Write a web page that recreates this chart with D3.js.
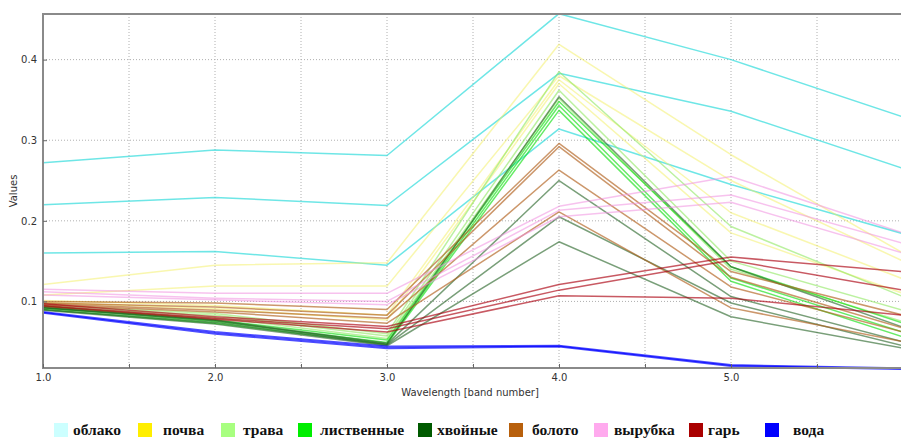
<!DOCTYPE html>
<html>
<head>
<meta charset="utf-8">
<script src="https://cdn.jsdelivr.net/npm/d3@7"></script>
<style>
  body { margin: 0; background: #fff; }
  svg { display: block; }
  .tick text { font-family: "DejaVu Sans", sans-serif; font-size: 10px; fill: #333; }
</style>
</head>
<body>
<div id="chart"></div>
<script>
//
// spectral profiles by class
//

var bands = [1, 2, 3, 4, 5, 6];
var xTicks = [1, 2, 3, 4, 5];
var yTicks = [0.1, 0.2, 0.3, 0.4];

var classNames = ["облако", "почва", "трава", "лиственные", "хвойные", "болото", "вырубка", "гарь", "вода"];
var legendColors = ["#ccffff", "#ffee00", "#a8ff80", "#00ee00", "#005a00", "#b8600c", "#ffaaee", "#aa0000", "#0000ff"];
var lineColors = ["#30dcdc", "#f4f060", "#90e860", "#00dd00", "#1f5f1f", "#b0601c", "#f090e0", "#aa0010", "#0000ff"];
var lineOpacity = [0.7, 0.5, 0.6, 0.6, 0.6, 0.65, 0.55, 0.65, 0.7];

// one row per sample, values for bands 1..6
var oblako = [
    [0.272, 0.288, 0.281, 0.457, 0.400, 0.329],
    [0.220, 0.229, 0.219, 0.383, 0.336, 0.265],
    [0.160, 0.162, 0.145, 0.314, 0.245, 0.184]
];
var pochva = [
    [0.121, 0.145, 0.148, 0.419, 0.282, 0.160],
    [0.108, 0.119, 0.119, 0.380, 0.250, 0.150],
    [0.101, 0.095, 0.083, 0.375, 0.210, 0.128],
    [0.099, 0.091, 0.077, 0.370, 0.185, 0.110]
];
var trava = [
    [0.095, 0.085, 0.060, 0.385, 0.193, 0.106],
    [0.093, 0.083, 0.057, 0.362, 0.150, 0.089],
    [0.091, 0.080, 0.054, 0.352, 0.140, 0.075]
];
var listvennye = [
    [0.094, 0.077, 0.052, 0.348, 0.143, 0.073],
    [0.092, 0.075, 0.049, 0.343, 0.129, 0.062],
    [0.090, 0.073, 0.047, 0.337, 0.125, 0.056]
];
var hvoinye = [
    [0.092, 0.077, 0.048, 0.354, 0.143, 0.068],
    [0.092, 0.076, 0.047, 0.250, 0.106, 0.050],
    [0.090, 0.074, 0.046, 0.205, 0.098, 0.045],
    [0.089, 0.072, 0.045, 0.174, 0.081, 0.042]
];
var boloto = [
    [0.100, 0.098, 0.090, 0.296, 0.137, 0.083],
    [0.098, 0.093, 0.083, 0.292, 0.130, 0.067],
    [0.097, 0.089, 0.079, 0.263, 0.118, 0.062],
    [0.096, 0.087, 0.073, 0.211, 0.092, 0.050]
];
var vyrubka = [
    [0.115, 0.110, 0.110, 0.218, 0.255, 0.185],
    [0.112, 0.104, 0.100, 0.213, 0.232, 0.172],
    [0.108, 0.102, 0.096, 0.205, 0.223, 0.160]
];
var gar = [
    [0.097, 0.081, 0.069, 0.121, 0.155, 0.137],
    [0.095, 0.079, 0.066, 0.114, 0.151, 0.114],
    [0.094, 0.078, 0.062, 0.107, 0.104, 0.083]
];
var voda = [
    [0.087, 0.062, 0.044, 0.045, 0.021, 0.017],
    [0.086, 0.060, 0.042, 0.044, 0.020, 0.016]
];

var classSeries = [oblako, pochva, trava, listvennye, hvoinye, boloto, vyrubka, gar, voda];

const _width = 901;
const _height = 438;
const _left = 43;
const _right = 903;
const _top = 14;
const _bottom = 368;

// legend layout (swatch left edge, text left edge)
const _legendSwatchX = [54, 138, 221, 298, 418, 509, 594, 689, 765];
const _legendTextX = [73, 163, 243, 320, 437, 532, 614, 708, 793];

var svg = d3.select("#chart")
    .append("svg")
    .attr("width", _width)
    .attr("height", _height);

var x = d3.scaleLinear().domain([1, 6]).range([_left, _right]);
var y = d3.scaleLinear().domain([0.0174, 0.4566]).range([_bottom, _top]);

// grid
var gridX = d3.range(1.5, 6, 0.5);
svg.append("g")
    .selectAll("line")
    .data(gridX)
    .join("line")
    .attr("x1", d => x(d)).attr("x2", d => x(d))
    .attr("y1", _top).attr("y2", _bottom)
    .attr("stroke", "#b0b0b0")
    .attr("stroke-width", 1)
    .attr("stroke-dasharray", "1,2");

svg.append("g")
    .selectAll("line")
    .data(yTicks)
    .join("line")
    .attr("x1", _left).attr("x2", _right)
    .attr("y1", d => y(d)).attr("y2", d => y(d))
    .attr("stroke", "#b0b0b0")
    .attr("stroke-width", 1)
    .attr("stroke-dasharray", "1,2");

// lines
var line = d3.line()
    .x((d, i) => x(bands[i]))
    .y(d => y(d));

var allLines = [];
classSeries.forEach(function (rows, c) {
    rows.forEach(function (r) {
        allLines.push({ cls: c, values: r });
    });
});

svg.append("g")
    .selectAll("path")
    .data(allLines)
    .join("path")
    .attr("fill", "none")
    .attr("stroke", d => lineColors[d.cls])
    .attr("stroke-opacity", d => lineOpacity[d.cls])
    .attr("stroke-width", d => d.cls == 8 ? 2 : 1.5)
    .attr("stroke-linejoin", "round")
    .attr("d", d => line(d.values));

// frame
svg.append("rect")
    .attr("x", _left).attr("y", _top)
    .attr("width", _right - _left).attr("height", _bottom - _top)
    .attr("fill", "none")
    .attr("stroke", "#8a8a8a")
    .attr("stroke-width", 2);

// axes
var xAxis = d3.axisBottom(x)
    .tickValues(d3.range(1, 6, 0.5))
    .tickSize(-4)
    .tickPadding(6)
    .tickFormat(d => Number.isInteger(d) ? d.toFixed(1) : "");
svg.append("g")
    .attr("class", "x axis")
    .attr("transform", "translate(0," + _bottom + ")")
    .call(xAxis)
    .call(g => g.select(".domain").remove())
    .call(g => g.selectAll(".tick line").attr("stroke", "#666"));

var yAxis = d3.axisLeft(y)
    .tickValues(yTicks)
    .tickSize(-4)
    .tickPadding(6)
    .tickFormat(d3.format(".1f"));
svg.append("g")
    .attr("class", "y axis")
    .attr("transform", "translate(" + _left + ",0)")
    .call(yAxis)
    .call(g => g.select(".domain").remove())
    .call(g => g.selectAll(".tick line").attr("stroke", "#666"));

// axis labels
svg.append("text")
    .attr("x", 470)
    .attr("y", 396)
    .attr("text-anchor", "middle")
    .style("font-family", "DejaVu Sans, sans-serif")
    .style("font-size", "10px")
    .attr("fill", "#333")
    .text("Wavelength [band number]");

svg.append("text")
    .attr("transform", "translate(17,191) rotate(-90)")
    .attr("text-anchor", "middle")
    .style("font-family", "DejaVu Sans, sans-serif")
    .style("font-size", "10px")
    .attr("fill", "#333")
    .text("Values");

// legend
var legend = svg.append("g")
    .attr("class", "legend")
    .selectAll("g")
    .data(classNames)
    .join("g");

legend.append("rect")
    .attr("x", (d, i) => _legendSwatchX[i])
    .attr("y", 423)
    .attr("width", 14)
    .attr("height", 14)
    .attr("fill", (d, i) => legendColors[i]);

legend.append("text")
    .attr("x", (d, i) => _legendTextX[i])
    .attr("y", 435)
    .style("font-family", "Liberation Serif, serif")
    .style("font-weight", "bold")
    .style("font-size", "15.5px")
    .attr("fill", "#111")
    .text(d => d);
</script>
</body>
</html>
